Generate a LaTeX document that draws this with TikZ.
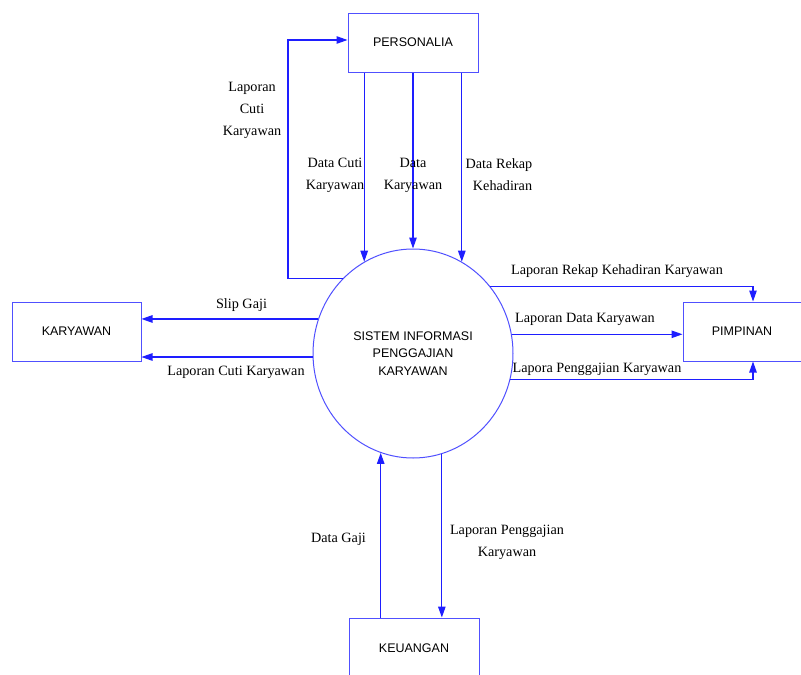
\documentclass[tikz,border=0pt]{standalone}
\usepackage{fontspec}
\setmainfont{Liberation Serif}
\newfontfamily\boxfont{Liberation Sans}
\usetikzlibrary{shapes.geometric,arrows.meta}
\definecolor{lineblue}{RGB}{30,30,255}
\definecolor{boxblue}{RGB}{80,80,255}
\tikzset{
  entity/.style={draw=boxblue,line width=1pt,rectangle,minimum width=130pt,minimum height=59pt,
    font=\boxfont\fontsize{12.5}{14}\selectfont,inner sep=0pt},
  boxtext/.style={inner sep=0pt,font=\boxfont\fontsize{12.5}{14}\selectfont},
  proc/.style={draw=boxblue,line width=1pt,ellipse,minimum width=200pt,minimum height=209pt,
    inner sep=0pt,align=center,font=\boxfont\fontsize{12.5}{17.5}\selectfont},
  arr/.style={draw=lineblue,line width=1.1pt,-{Triangle[length=11pt,width=7.5pt]}},
  lbl/.style={align=center,inner sep=0pt,font=\fontsize{14.2}{22}\selectfont,text=black}
}
\begin{document}
\begin{tikzpicture}[x=1pt,y=-1pt]
\useasboundingbox (0,0) rectangle (801,675);
\clip (0,0) rectangle (801,675);
% entities
\node[entity] (pers) at (413,42.5) {PERSONALIA};
\node[entity,minimum width=129pt] (kar) at (76.5,331.5) {KARYAWAN};
\node[entity,minimum width=140pt] (pim) at (753,331.5) {};
\node[boxtext] (pimt) at (742,331.5) {PIMPINAN};
\node[entity,minimum height=72pt] (keu) at (414,654) {};
\node[boxtext] (keut) at (414,648) {KEUANGAN};
% process
\node[proc] (sys) at (413,353.5) {SISTEM INFORMASI\\PENGGAJIAN\\KARYAWAN};
% PERSONALIA -> system
\draw[arr] (sys.118.7 |- pers.south) -- (sys.118.7);
\draw[arr] (sys.90 |- pers.south) -- (sys.90);
\draw[arr] (sys.62 |- pers.south) -- (sys.62);
% loop back to PERSONALIA
\coordinate (lp) at (288,40);
\draw[arr] (sys.133) -| (lp) -- (lp -| pers.west);
% to KARYAWAN
\draw[arr] (sys.160.7) -- (sys.160.7 -| kar.east);
\draw[arr] (sys.182) -- (sys.182 -| kar.east);
% to PIMPINAN
\draw[arr] (sys.41) -| (pim.north);
\draw[arr] (sys.11.9) -- (sys.11.9 -| pim.west);
\draw[arr] (sys.-15.3) -| (pim.south);
% KEUANGAN
\draw[arr] (sys.252.5 |- keu.north) -- (sys.252.5);
\draw[arr] (sys.286.3) -- (sys.286.3 |- keu.north);
% labels
\node[lbl] (l1) at (252,110) {Laporan\\Cuti\\Karyawan};
\node[lbl] (l2) at (335,175) {Data Cuti\\Karyawan};
\node[lbl] (l3) at (413,175) {Data\\Karyawan};
\node[lbl] (l4) at (499,175) {Data Rekap\\\ \ Kehadiran};
\node[lbl] (l5) at (241.5,305) {Slip Gaji};
\node[lbl] (l6) at (236,372) {Laporan Cuti Karyawan};
\node[lbl] (l7) at (617,271) {Laporan Rekap Kehadiran Karyawan};
\node[lbl] (l8) at (585,319) {Laporan Data Karyawan};
\node[lbl] (l9) at (597,369) {Lapora Penggajian Karyawan};
\node[lbl] (l10) at (338.5,539) {Data Gaji};
\node[lbl] (l11) at (507,542) {Laporan Penggajian\\Karyawan};
\end{tikzpicture}
\end{document}
